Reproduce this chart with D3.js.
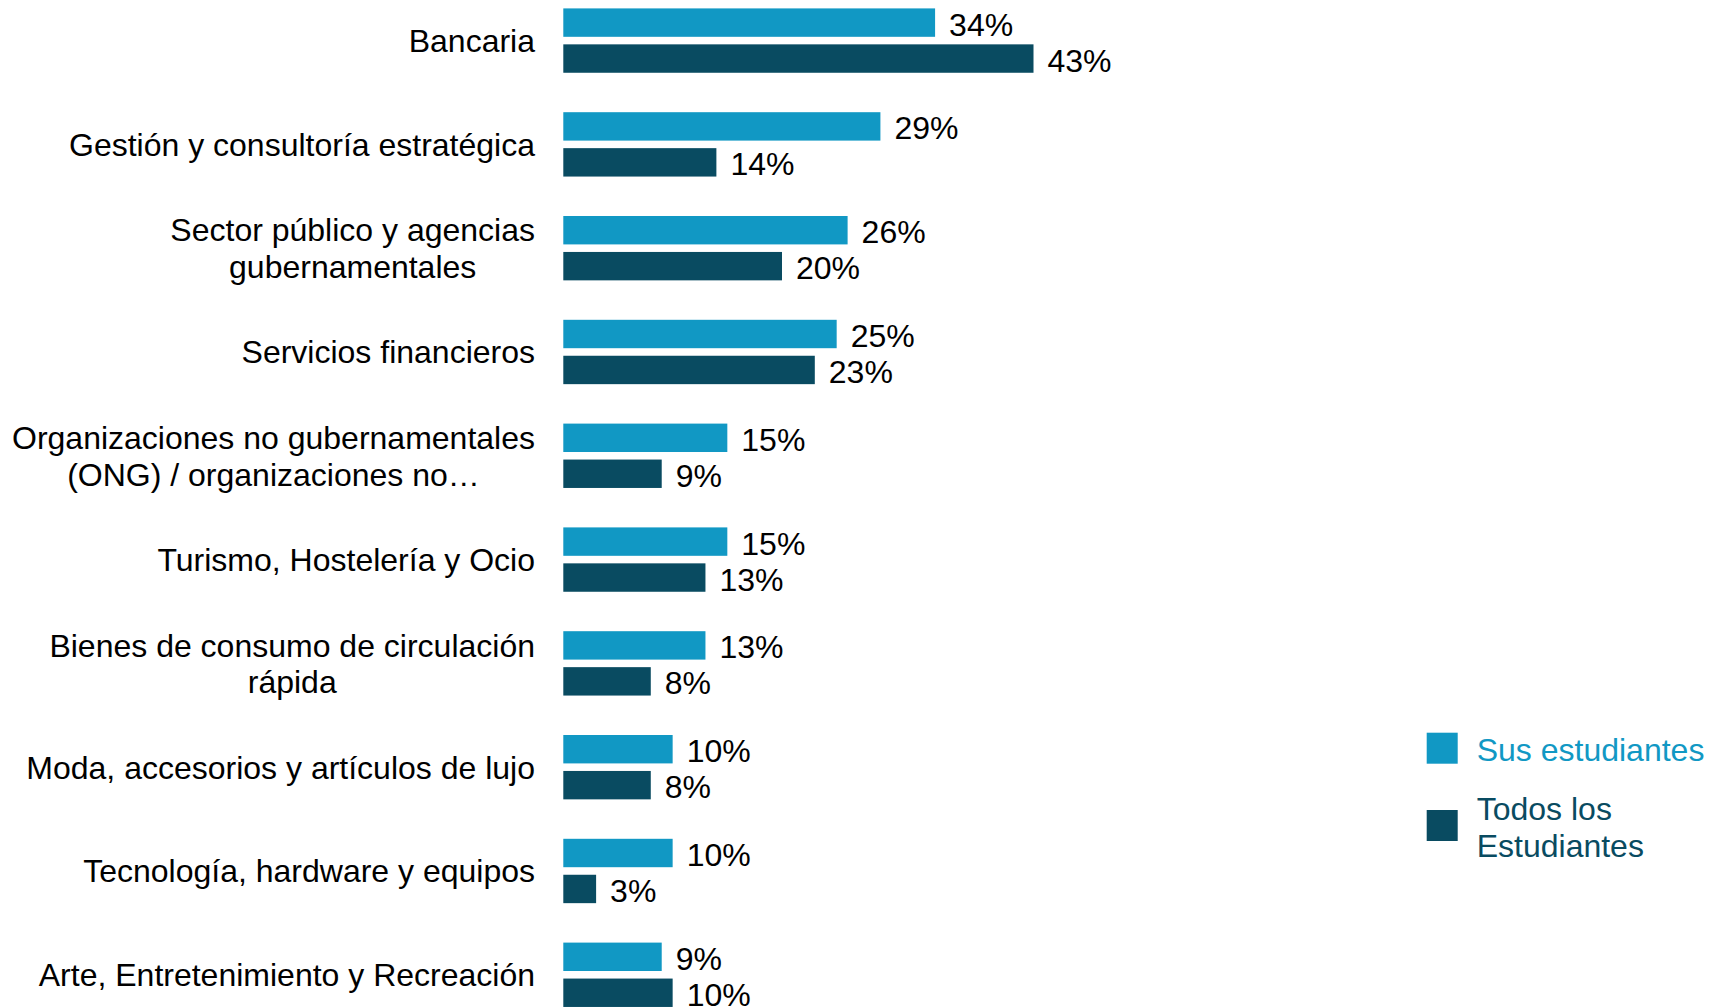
<!DOCTYPE html>
<html>
<head>
<meta charset="utf-8">
<script src="https://cdn.jsdelivr.net/npm/d3@7"></script>
<style>
  html, body { margin: 0; padding: 0; background: #fff; }
  svg { display: block; font-family: "Liberation Sans", Arial, sans-serif; }
</style>
</head>
<body>
<svg id="chart" width="1717" height="1008"></svg>
<script>
const categories = [
  "Bancaria",
  "Gestión y consultoría estratégica",
  "Sector público y agencias\ngubernamentales",
  "Servicios financieros",
  "Organizaciones no gubernamentales\n(ONG) / organizaciones no…",
  "Turismo, Hostelería y Ocio",
  "Bienes de consumo de circulación\nrápida",
  "Moda, accesorios y artículos de lujo",
  "Tecnología, hardware y equipos",
  "Arte, Entretenimiento y Recreación"
];
const seriesNames = ["Sus estudiantes", "Todos los Estudiantes"];
const susEstudiantes = [34, 29, 26, 25, 15, 15, 13, 10, 10, 9];
const todosEstudiantes = [43, 14, 20, 23, 9, 13, 8, 8, 3, 10];
const seriesValues = [susEstudiantes, todosEstudiantes];
const colors = ["#1198C4", "#094B61"];

const svg = d3.select("#chart");
const FS = 32;

const x = d3.scaleLinear().domain([0, 43]).range([563.3, 1033.5]);
const step = 103.8;
const padIn = 0.38;
const y0 = d3.scaleBand().domain(categories)
  .range([8.4 - (padIn / 2) * step, 8.4 - (padIn / 2) * step + step * categories.length])
  .paddingInner(padIn).paddingOuter(padIn / 2);
const y1 = d3.scaleBand().domain(d3.range(seriesNames.length))
  .range([0, y0.bandwidth()]).paddingInner(0.21).paddingOuter(0);

const rows = categories.map((c, i) => ({ cat: c, vals: seriesValues.map((s, k) => ({ k, v: s[i] })) }));

const g = svg.append("g");
const groups = g.selectAll("g.grp").data(rows).join("g")
  .attr("class", "grp")
  .attr("transform", d => `translate(0,${y0(d.cat)})`);

groups.selectAll("rect").data(d => d.vals).join("rect")
  .attr("x", x(0))
  .attr("y", d => y1(d.k))
  .attr("width", d => x(d.v) - x(0))
  .attr("height", y1.bandwidth())
  .attr("fill", d => colors[d.k]);

groups.selectAll("text.val").data(d => d.vals).join("text")
  .attr("class", "val")
  .attr("x", d => x(d.v) + 14)
  .attr("y", d => y1(d.k) + y1.bandwidth() / 2 + 13)
  .attr("font-size", FS)
  .attr("fill", "#000")
  .text(d => d.v + "%");

// category labels: block right-aligned at 535, lines centered within block
const labelRight = 535;
const lineH = 36.6;
groups.each(function(d) {
  const lines = d.cat.split("\n");
  const grp = d3.select(this);
  const cy = y0.bandwidth() / 2;
  const texts = lines.map((ln, i) => grp.append("text")
    .attr("font-size", FS)
    .attr("fill", "#000")
    .attr("text-anchor", "middle")
    .attr("y", cy + (i - (lines.length - 1) / 2) * lineH + 11.5)
    .text(ln));
  const w = d3.max(texts, t => t.node().getComputedTextLength());
  texts.forEach(t => t.attr("x", labelRight - w / 2));
});

// legend
const legend = svg.append("g");
const legY = [732.7, 810];
const legLines = [["Sus estudiantes"], ["Todos los", "Estudiantes"]];
seriesNames.forEach((name, k) => {
  legend.append("rect")
    .attr("x", 1426.7).attr("y", legY[k])
    .attr("width", 31).attr("height", 31)
    .attr("fill", colors[k]);
  const lines = legLines[k];
  lines.forEach((ln, i) => {
    legend.append("text")
      .attr("x", 1476.7)
      .attr("y", lines.length === 1 ? legY[k] + 15.5 + 13 : legY[k] + 10 + i * 37.3)
      .attr("font-size", FS)
      .attr("fill", colors[k])
      .text(ln);
  });
});
</script>
</body>
</html>
